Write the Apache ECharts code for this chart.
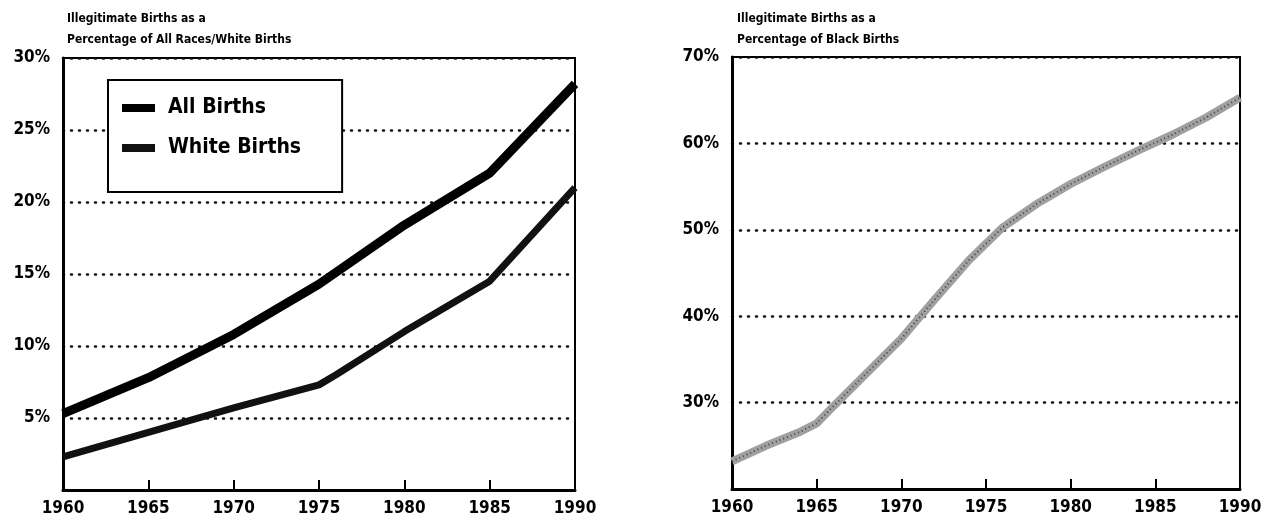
<!DOCTYPE html>
<html lang="en">
<head>
  <meta charset="UTF-8">
  <title>Illegitimate Births</title>
  <script src="https://cdn.jsdelivr.net/npm/echarts@6/dist/echarts.min.js"></script>
  <style>
    html, body { margin: 0; padding: 0; background: #fff; }
    #main { width: 1267px; height: 523px; }
  </style>
</head>
<body>
  <div id="main"></div>
  <script>
    // values, percent of births
    var allYears = [1960, 1965, 1970, 1975, 1980, 1985, 1990];
    var allBirths = [5.3, 7.8, 10.8, 14.3, 18.4, 22.0, 28.2];

    var whiteYears = [1960, 1965, 1970, 1975, 1976, 1980, 1985, 1990];
    var whiteBirths = [2.3, 4.0, 5.7, 7.3, 8.0, 11.0, 14.5, 21.0];

    var blackYears = [1960, 1962, 1964, 1965, 1966, 1968, 1970, 1972, 1974, 1976, 1978, 1980, 1982, 1984, 1986, 1988, 1990];
    var blackBirths = [23.2, 25.0, 26.6, 27.6, 29.6, 33.5, 37.4, 42.0, 46.5, 50.3, 53.0, 55.3, 57.3, 59.2, 61.0, 63.0, 65.3];

    var xTicks = [1960, 1965, 1970, 1975, 1980, 1985, 1990];

    function pairs(xs, ys) {
      return xs.map(function (x, i) { return [x, ys[i]]; });
    }

    var FONT = 'DejaVu Sans Condensed';

    var oChart = echarts.init(document.getElementById('main'));

    function xAxisFor(idx) {
      return {
        gridIndex: idx,
        type: 'value',
        min: xTicks[0],
        max: xTicks[xTicks.length - 1],
        interval: 5,
        splitLine: { show: false },
        axisLine: { show: true, lineStyle: { color: '#000', width: 3 } },
        axisTick: { show: true, inside: true, length: 10, lineStyle: { color: '#000', width: 2 } },
        axisLabel: {
          margin: 10, color: '#000', fontFamily: FONT, fontWeight: 'bold', fontSize: 17,
          formatter: function (v) { return String(v); }
        }
      };
    }

    function yAxisFor(idx, min, max, interval, hide) {
      return {
        gridIndex: idx,
        type: 'value',
        min: min,
        max: max,
        interval: interval,
        axisLine: { show: true, lineStyle: { color: '#000', width: 3 } },
        axisTick: { show: false },
        splitLine: {
          show: true,
          lineStyle: { color: '#111', width: 2.5, type: [1, 7], cap: 'round' }
        },
        axisLabel: {
          margin: 13, color: '#000', fontFamily: FONT, fontWeight: 'bold', fontSize: 17,
          formatter: function (v) { return v === hide ? '' : v + '%'; }
        }
      };
    }

    var option = {
      animation: false,
      backgroundColor: '#fff',
      title: [{
        text: 'Illegitimate Births as a\nPercentage of All Races/White Births',
        left: 62, top: 3,
        textStyle: { fontFamily: FONT, fontWeight: 'bold', fontSize: 12, lineHeight: 21, color: '#000' }
      }, {
        text: 'Illegitimate Births as a\nPercentage of Black Births',
        left: 732, top: 3,
        textStyle: { fontFamily: FONT, fontWeight: 'bold', fontSize: 12, lineHeight: 21, color: '#000' }
      }],
      legend: {
        data: ['All Births', 'White Births'],
        orient: 'vertical',
        left: 108, top: 80,
        backgroundColor: '#fff',
        borderColor: '#000',
        borderWidth: 2,
        padding: [15, 41, 31, 14],
        itemGap: 14,
        itemWidth: 33,
        itemHeight: 8,
        icon: 'rect',
        textStyle: { fontFamily: FONT, fontWeight: 'bold', fontSize: 21, lineHeight: 26, color: '#000', padding: [0, 0, 0, 8] }
      },
      grid: [
        { left: 63, top: 58, width: 512, height: 432, show: true, borderColor: '#000', borderWidth: 2, backgroundColor: 'transparent' },
        { left: 732, top: 57, width: 508, height: 432, show: true, borderColor: '#000', borderWidth: 2, backgroundColor: 'transparent' }
      ],
      xAxis: [xAxisFor(0), xAxisFor(1)],
      yAxis: [yAxisFor(0, 0, 30, 5, 0), yAxisFor(1, 20, 70, 10, 20)],
      series: [{
        name: 'All Births',
        type: 'line',
        xAxisIndex: 0, yAxisIndex: 0,
        showSymbol: false,
        z: 4,
        itemStyle: { color: '#000' },
        lineStyle: { color: '#000', width: 9 },
        data: pairs(allYears, allBirths)
      }, {
        name: 'White Births',
        type: 'line',
        xAxisIndex: 0, yAxisIndex: 0,
        showSymbol: false,
        z: 4,
        itemStyle: { color: '#111' },
        lineStyle: { color: '#111', width: 7 },
        data: pairs(whiteYears, whiteBirths)
      }, {
        name: 'Black Births',
        type: 'line',
        xAxisIndex: 1, yAxisIndex: 1,
        showSymbol: false,
        z: 4,
        lineStyle: { color: '#a0a0a0', width: 8 },
        data: pairs(blackYears, blackBirths)
      }, {
        name: 'Black Births',
        type: 'line',
        xAxisIndex: 1, yAxisIndex: 1,
        showSymbol: false,
        z: 5,
        lineStyle: { color: '#444', width: 2, type: [1, 3] },
        data: pairs(blackYears, blackBirths)
      }]
    };

    oChart.setOption(option);
  </script>
</body>
</html>
